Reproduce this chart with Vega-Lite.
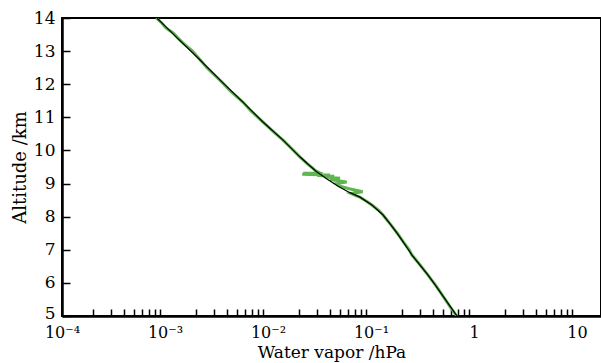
{
  "$schema": "https://vega.github.io/schema/vega-lite/v6.json",
  "width": 539,
  "height": 298,
  "autosize": {"type": "none"},
  "padding": {"left": 62, "top": 18, "right": 0, "bottom": 47},
  "background": "white",
  "config": {
    "view": {"stroke": "black", "strokeWidth": 2},
    "font": "DejaVu Serif"
  },
  "datasets": {
    "model": [
      {"alt": 14.0, "wv": 0.000836},
      {"alt": 13.4, "wv": 0.00131},
      {"alt": 12.73, "wv": 0.00219},
      {"alt": 12.07, "wv": 0.00357},
      {"alt": 11.46, "wv": 0.00571},
      {"alt": 10.86, "wv": 0.00893},
      {"alt": 10.31, "wv": 0.0140},
      {"alt": 9.80, "wv": 0.0205},
      {"alt": 9.53, "wv": 0.0256},
      {"alt": 9.35, "wv": 0.0299},
      {"alt": 9.14, "wv": 0.0374},
      {"alt": 8.92, "wv": 0.0479},
      {"alt": 8.74, "wv": 0.0611},
      {"alt": 8.59, "wv": 0.0782},
      {"alt": 8.35, "wv": 0.102},
      {"alt": 8.05, "wv": 0.131},
      {"alt": 7.75, "wv": 0.156},
      {"alt": 7.50, "wv": 0.179},
      {"alt": 7.20, "wv": 0.209},
      {"alt": 6.84, "wv": 0.250},
      {"alt": 6.54, "wv": 0.299},
      {"alt": 6.24, "wv": 0.357},
      {"alt": 5.90, "wv": 0.428},
      {"alt": 5.60, "wv": 0.500},
      {"alt": 5.30, "wv": 0.585},
      {"alt": 5.00, "wv": 0.684}
    ],
    "obs": [
      {"alt": 14.0, "wv": 0.00082},
      {"alt": 13.85, "wv": 0.00093},
      {"alt": 13.7, "wv": 0.00102},
      {"alt": 13.55, "wv": 0.0012},
      {"alt": 13.4, "wv": 0.00133},
      {"alt": 13.2, "wv": 0.00155},
      {"alt": 13.0, "wv": 0.00185},
      {"alt": 12.73, "wv": 0.0022},
      {"alt": 12.5, "wv": 0.00255},
      {"alt": 12.3, "wv": 0.00298},
      {"alt": 12.07, "wv": 0.00355},
      {"alt": 11.8, "wv": 0.0043},
      {"alt": 11.46, "wv": 0.0057},
      {"alt": 11.2, "wv": 0.0068},
      {"alt": 10.86, "wv": 0.0089},
      {"alt": 10.6, "wv": 0.011},
      {"alt": 10.31, "wv": 0.014},
      {"alt": 10.05, "wv": 0.017},
      {"alt": 9.8, "wv": 0.0205},
      {"alt": 9.6, "wv": 0.024},
      {"alt": 9.45, "wv": 0.0275},
      {"alt": 9.38, "wv": 0.029},
      {"alt": 9.32, "wv": 0.032},
      {"alt": 9.31, "wv": 0.022},
      {"alt": 9.30, "wv": 0.034},
      {"alt": 9.28, "wv": 0.0215},
      {"alt": 9.26, "wv": 0.040},
      {"alt": 9.24, "wv": 0.030},
      {"alt": 9.22, "wv": 0.044},
      {"alt": 9.20, "wv": 0.036},
      {"alt": 9.16, "wv": 0.050},
      {"alt": 9.12, "wv": 0.040},
      {"alt": 9.05, "wv": 0.058},
      {"alt": 9.0, "wv": 0.046},
      {"alt": 8.92, "wv": 0.050},
      {"alt": 8.85, "wv": 0.060},
      {"alt": 8.75, "wv": 0.083},
      {"alt": 8.70, "wv": 0.064},
      {"alt": 8.62, "wv": 0.073},
      {"alt": 8.59, "wv": 0.078},
      {"alt": 8.45, "wv": 0.092},
      {"alt": 8.35, "wv": 0.102},
      {"alt": 8.2, "wv": 0.118},
      {"alt": 8.05, "wv": 0.131},
      {"alt": 7.9, "wv": 0.143},
      {"alt": 7.75, "wv": 0.156},
      {"alt": 7.5, "wv": 0.18},
      {"alt": 7.2, "wv": 0.21},
      {"alt": 7.0, "wv": 0.235},
      {"alt": 6.84, "wv": 0.25},
      {"alt": 6.54, "wv": 0.30},
      {"alt": 6.24, "wv": 0.356},
      {"alt": 5.9, "wv": 0.43},
      {"alt": 5.6, "wv": 0.50},
      {"alt": 5.3, "wv": 0.58},
      {"alt": 5.0, "wv": 0.68}
    ]
  },
  "encoding": {
    "x": {
      "field": "wv",
      "type": "quantitative",
      "scale": {"type": "log", "domain": [0.0001, 17.1], "nice": false},
      "axis": {
        "title": "Water vapor /hPa",
        "titleFont": "DejaVu Serif",
        "titleFontSize": 17,
        "titleFontWeight": "normal",
        "titleColor": "black",
        "titleY": 45,
        "titleBaseline": "bottom",
        "values": [0.0001, 0.0002, 0.0003, 0.0004, 0.0005, 0.0006, 0.0007, 0.0008, 0.0009,
                   0.001, 0.002, 0.003, 0.004, 0.005, 0.006, 0.007, 0.008, 0.009,
                   0.01, 0.02, 0.03, 0.04, 0.05, 0.06, 0.07, 0.08, 0.09,
                   0.1, 0.2, 0.3, 0.4, 0.5, 0.6, 0.7, 0.8, 0.9,
                   1, 2, 3, 4, 5, 6, 7, 8, 9, 10],
        "labelExpr": "datum.value == 0.0001 ? '10⁻⁴' : datum.value == 0.001 ? '10⁻³' : datum.value == 0.01 ? '10⁻²' : datum.value == 0.1 ? '10⁻¹' : datum.value == 1 ? '1' : datum.value == 10 ? '10' : ''",
        "labelFont": "DejaVu Serif",
        "labelFontSize": 16,
        "labelColor": "black",
        "labelPadding": 15,
        "labelOverlap": false,
        "labelFlush": false,
        "tickSize": -7,
        "tickWidth": 1.5,
        "tickColor": "black",
        "tickOpacity": {"condition": {"test": "indexof([0.0001, 0.001, 0.01, 0.1, 1, 10], datum.value) >= 0", "value": 0}, "value": 1},
        "domainColor": "black",
        "domainWidth": 2.5,
        "grid": false
      }
    },
    "y": {
      "field": "alt",
      "type": "quantitative",
      "scale": {"domain": [5, 14], "nice": false, "zero": false},
      "axis": {
        "title": "Altitude /km",
        "titleFont": "DejaVu Serif",
        "titleFontSize": 18,
        "titleFontWeight": "normal",
        "titleColor": "black",
        "titlePadding": 4,
        "values": [5, 6, 7, 8, 9, 10, 11, 12, 13, 14],
        "labelFont": "DejaVu Serif",
        "labelFontSize": 17,
        "labelColor": "black",
        "labelPadding": 15,
        "labelOffset": {"condition": {"test": "datum.value == 5", "value": -3}, "value": 0},
        "labelFlush": false,
        "labelOverlap": false,
        "tickSize": -8,
        "tickWidth": 1.5,
        "tickColor": "black",
        "domainColor": "black",
        "domainWidth": 2.5,
        "grid": false
      }
    },
    "order": {"field": "alt", "sort": "descending"}
  },
  "layer": [
    {
      "data": {"name": "obs"},
      "mark": {"type": "line", "color": "#5fb54f", "strokeWidth": 3, "clip": true}
    },
    {
      "data": {"name": "model"},
      "mark": {"type": "line", "color": "black", "strokeWidth": 1.2, "clip": true}
    }
  ]
}
